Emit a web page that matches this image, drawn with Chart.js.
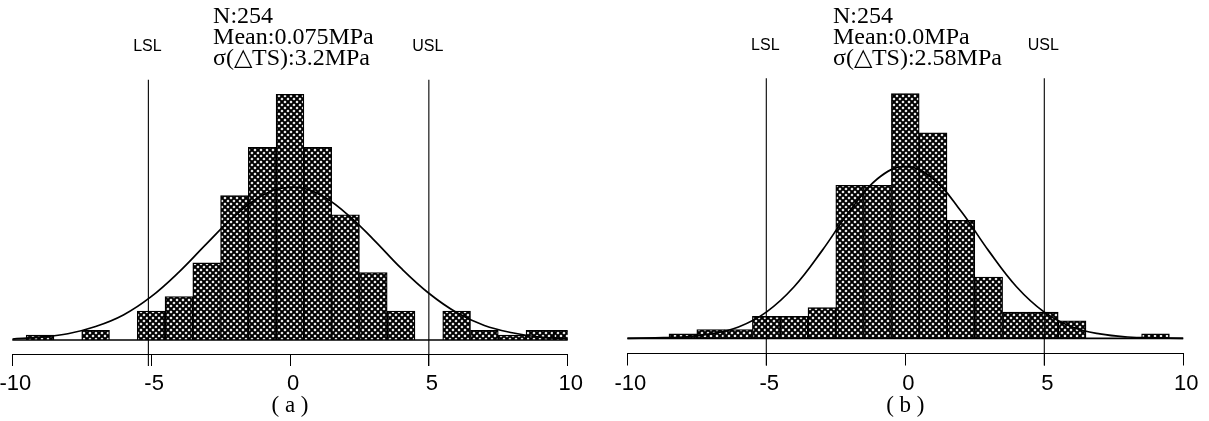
<!DOCTYPE html>
<html>
<head>
<meta charset="utf-8">
<script src="https://cdn.jsdelivr.net/npm/chart.js@4.4.1/dist/chart.umd.min.js"></script>
<style>
html,body{margin:0;padding:0;background:#fff;width:1209px;height:421px;overflow:hidden}
.p{position:absolute;top:0;height:421px}
#wa{left:0;width:600px}
#wb{left:600px;width:609px}
canvas{display:block}
</style>
</head>
<body>
<div class="p" id="wa"><canvas id="ca" width="600" height="421"></canvas></div>
<div class="p" id="wb"><canvas id="cb" width="609" height="421"></canvas></div>
<script>
// ---- data ----
const binCenters = [-10,-9,-8,-7,-6,-5,-4,-3,-2,-1,0,1,2,3,4,5,6,7,8,9,10];
const countsA    = [0,1,0,2,0,6,9,16,30,40,51,40,26,14,6,0,6,2,1,2,2];
const countsB    = [0,0,1,2,2,5,5,7,35,35,56,47,27,14,6,6,4,0,0,1,0];
const curveA     = [0.2,0.6,1.3,2.8,5.2,9.0,14.1,20.0,25.7,30.0,31.7,30.4,26.4,20.9,14.9,9.7,5.7,3.0,1.5,0.6,0.3];
const curveB     = [0.0,0.1,0.3,1.0,2.6,6.0,11.8,20.0,29.1,36.5,39.3,36.5,29.1,20.0,11.8,6.0,2.6,1.0,0.3,0.1,0.0];
const tickValues = [-10,-5,0,5,10];
const statsA     = ['N:254','Mean:0.075MPa','σ(△TS):3.2MPa'];
const statsB     = ['N:254','Mean:0.0MPa','σ(△TS):2.58MPa'];
const limitsA    = [-5.1, 5.0];
const limitsB    = [-5.0, 5.0];
const limitNames = ['LSL','USL'];
const panelNames = ['( a )','( b )'];

// ---- crosshatch pattern ----
function hatch(){
  const c = document.createElement('canvas');
  c.width = 6; c.height = 6;
  const g = c.getContext('2d');
  g.fillStyle = '#fff'; g.fillRect(0,0,6,6);
  g.strokeStyle = '#000'; g.lineWidth = 2.0;
  g.beginPath();
  g.moveTo(-1,-1); g.lineTo(7,7);
  g.moveTo(-1,7); g.lineTo(7,-1);
  g.stroke();
  return g.createPattern(c,'repeat');
}
const pattern = hatch();

function annot(stats, limits, limTop, statsX, labelY){
  return {
    id:'annot',
    afterDatasetsDraw(chart){
      const ctx = chart.ctx, xs = chart.scales.x, ys = chart.scales.y, ca = chart.chartArea;
      ctx.save();
      ctx.strokeStyle = '#000'; ctx.lineWidth = 1.1;
      limits.forEach((v,i)=>{
        const px = xs.getPixelForValue(v);
        ctx.beginPath();
        ctx.moveTo(px, ys.getPixelForValue(limTop));
        ctx.lineTo(px, ca.bottom + 12);
        ctx.stroke();
        ctx.fillStyle = '#000';
        ctx.font = '16px "Liberation Sans", Arial, sans-serif';
        ctx.textAlign = 'center'; ctx.textBaseline = 'alphabetic';
        ctx.fillText(limitNames[i], px - 1, labelY);
      });
      ctx.font = '24px "Liberation Serif", "Times New Roman", serif';
      ctx.textAlign = 'left'; ctx.textBaseline = 'alphabetic'; ctx.fillStyle = '#000';
      const x0 = xs.getPixelForValue(statsX);
      stats.forEach((t,i)=> ctx.fillText(t, x0, 23 + i*21));
      ctx.restore();
    }
  };
}

function makeChart(id, counts, curve, stats, limits, limTop, statsX, labelY, yMin, yMax, padL, padR, axisH, title){
  const bars = binCenters.map((x,i)=>({x, y:counts[i]}));
  const line = binCenters.map((x,i)=>({x, y:curve[i]}));
  const base = [{x:binCenters[0], y:0},{x:binCenters[binCenters.length-1], y:0}];
  return new Chart(document.getElementById(id), {
    type:'bar',
    data:{datasets:[
      {type:'line', data:line, borderColor:'#000', borderWidth:1.7, pointRadius:0, tension:0.4, fill:false, order:0, clip:0},
      {type:'line', data:base, borderColor:'#000', borderWidth:1.7, pointRadius:0, fill:false, order:1, clip:false},
      {type:'bar', data:bars, backgroundColor:pattern, borderColor:'#000', borderWidth:1.3,
       barPercentage:1, categoryPercentage:1, order:2, clip:0}
    ]},
    options:{
      responsive:false, animation:false, devicePixelRatio:1,
      layout:{padding:{left:padL, right:padR, top:0, bottom:0}},
      plugins:{legend:{display:false}, tooltip:{enabled:false}},
      scales:{
        x:{type:'linear', min:-10, max:10, offset:false,
           afterBuildTicks(s){ s.ticks = tickValues.map(v=>({value:v})); },
           afterFit(s){ s.paddingLeft = 0; s.paddingRight = 0; s.height = axisH; },
           grid:{offset:false, drawOnChartArea:false, drawTicks:true, tickLength:12, color:'#000', lineWidth:1},
           border:{display:true, color:'#000', width:1},
           ticks:{color:'#000', padding:5, labelOffset:3, maxRotation:0, autoSkip:false,
                  font:{family:'"Liberation Sans", Arial, sans-serif', size:22}},
           title:{display:true, text:title, color:'#000', padding:{top:0,bottom:1},
                  font:{family:'"Liberation Serif", "Times New Roman", serif', size:23}}
        },
        y:{display:false, min:yMin, max:yMax}
      }
    },
    plugins:[annot(stats, limits, limTop, statsX, labelY)]
  });
}

makeChart('ca', countsA, curveA, statsA, limitsA, 54, -2.77, 51, -2.906, 70.57, 12.3, 32.3, 67, panelNames[0]);
makeChart('cb', countsB, curveB, statsB, limitsB, 59.5, -2.6, 50, -3.48, 77.4, 27.3, 25.7, 67.5, panelNames[1]);
</script>
</body>
</html>
